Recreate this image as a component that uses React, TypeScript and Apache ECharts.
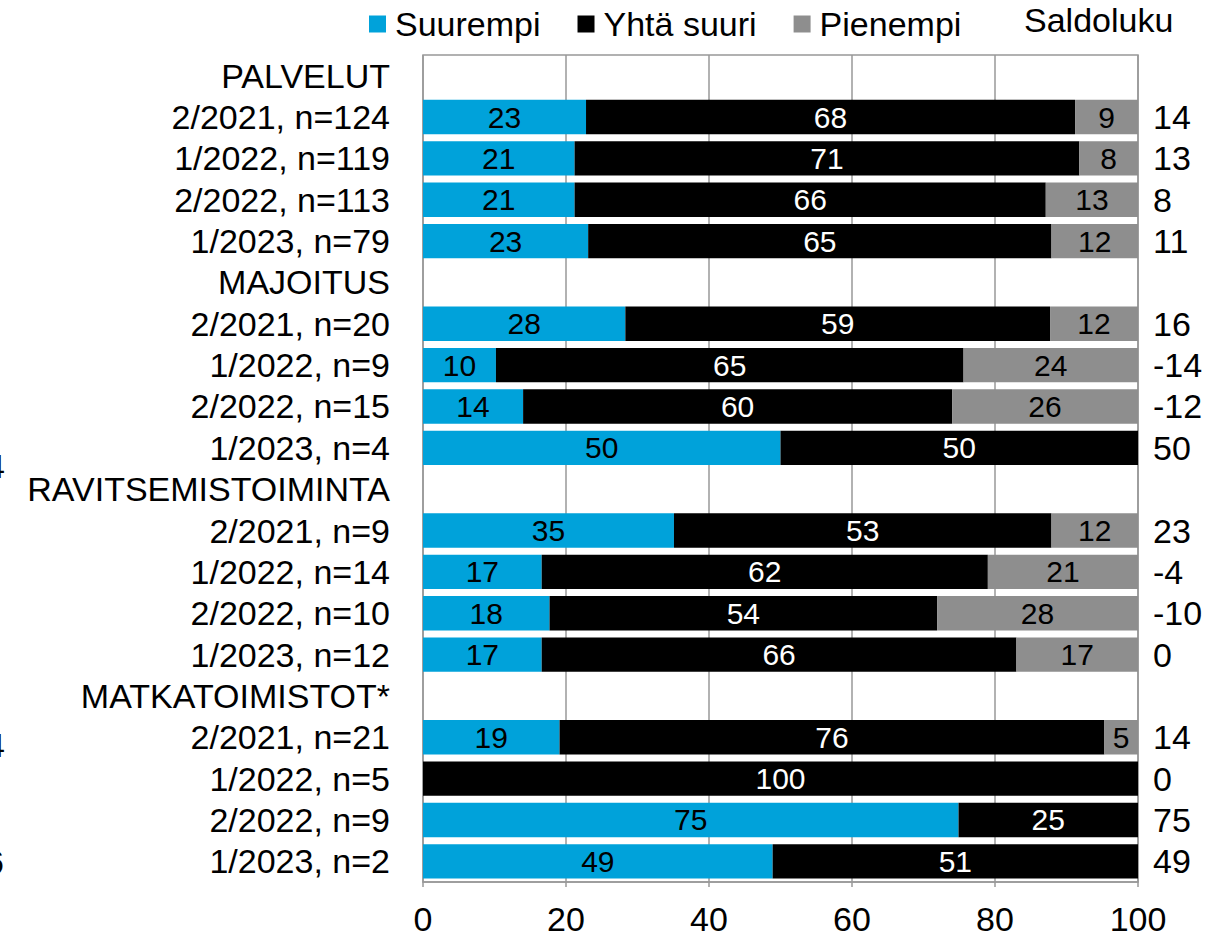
import React, { useEffect, useRef } from "react";
import * as echarts from "echarts";

const categories = [
  "PALVELUT", "2/2021, n=124", "1/2022, n=119", "2/2022, n=113", "1/2023, n=79",
  "MAJOITUS", "2/2021, n=20", "1/2022, n=9", "2/2022, n=15", "1/2023, n=4",
  "RAVITSEMISTOIMINTA", "2/2021, n=9", "1/2022, n=14", "2/2022, n=10", "1/2023, n=12",
  "MATKATOIMISTOT*", "2/2021, n=21", "1/2022, n=5", "2/2022, n=9", "1/2023, n=2",
];

const suurempi = [null, 22.8, 21.2, 21.2, 23.1, null, 28.3, 10.2, 14, 50, null, 35.1, 16.6, 17.7, 16.6, null, 19.1, 0, 74.9, 48.9];
const yhtaSuuri = [null, 68.4, 70.6, 65.9, 64.8, null, 59.4, 65.4, 60, 50, null, 52.8, 62.4, 54.2, 66.4, null, 76.2, 100, 25.1, 51.1];
const pienempi = [null, 8.8, 8.2, 12.9, 12.1, null, 12.3, 24.4, 26, 0, null, 12.1, 21, 28.1, 17, null, 4.7, 0, 0, 0];
const saldoluku = ["", "14", "13", "8", "11", "", "16", "-14", "-12", "50", "", "23", "-4", "-10", "0", "", "14", "0", "75", "49"];
const xTicks = [0, 20, 40, 60, 80, 100];

const FONT = "'Liberation Sans', Arial, sans-serif";
const FS = 34;
const BLUE = "#00A2DA";
const BLACK = "#000000";
const GRAY = "#8E8E8E";
const LINE = "#989898";

export default function App() {
  const ref = useRef<HTMLDivElement>(null);
  useEffect(() => {
    if (!ref.current) return;
    const chart = echarts.init(ref.current, undefined, { renderer: "svg" });
    const labelFmt = (p: any) => {
      const v = p.value;
      if (v == null || v === 0) return "";
      return String(Math.round(v));
    };
    const mkSeries = (name: string, data: any[], color: string, labelColor: string) => ({
      name,
      type: "bar",
      stack: "total",
      data,
      barCategoryGap: "17%",
      itemStyle: { color },
      label: {
        show: true,
        position: "inside",
        formatter: labelFmt,
        color: labelColor,
        fontSize: 30,
        fontFamily: FONT,
      },
    });
    const stray = (text: string, x: number, y: number) => ({
      type: "text",
      x,
      y,
      style: { text, fontSize: FS, fontFamily: FONT, fill: "#000", align: "right", verticalAlign: "middle" },
    });
    chart.setOption({
      animation: false,
      textStyle: { fontFamily: FONT },
      grid: {
        left: 423,
        right: 84,
        top: 55,
        bottom: 55,
        show: true,
        borderColor: LINE,
        borderWidth: 1.5,
        containLabel: false,
      },
      legend: {
        left: 364,
        top: 2,
        icon: "rect",
        itemWidth: 17,
        itemHeight: 17,
        itemGap: 37,
        textStyle: { fontSize: FS, color: "#000", fontFamily: FONT, padding: [0, 0, 0, 4] },
        data: ["Suurempi", "Yhtä suuri", "Pienempi"],
      },
      graphic: [
        { type: "text", left: 1024, top: 3, style: { text: "Saldoluku", fontSize: FS, fontFamily: FONT, fill: "#000" } },
        stray("4", 5, 466),
        stray("4", 5, 745),
        stray("6", 4, 862),
      ],
      xAxis: {
        type: "value",
        min: xTicks[0],
        max: xTicks[xTicks.length - 1],
        interval: 20,
        axisLine: { show: true, lineStyle: { color: LINE, width: 1.5 } },
        axisTick: { show: true, length: 5, lineStyle: { color: LINE, width: 1.5 } },
        splitLine: { show: true, lineStyle: { color: LINE, width: 1.5 } },
        axisLabel: { fontSize: FS, color: "#000", margin: 20, fontFamily: FONT },
      },
      yAxis: [
        {
          type: "category",
          inverse: true,
          data: categories,
          axisLine: { show: false },
          axisTick: { show: false },
          splitLine: { show: false },
          axisLabel: { fontSize: FS, color: "#000", margin: 33, fontFamily: FONT, interval: 0 },
        },
        {
          type: "category",
          inverse: true,
          position: "right",
          data: saldoluku,
          axisLine: { show: false },
          axisTick: { show: false },
          splitLine: { show: false },
          axisLabel: { fontSize: FS, color: "#000", margin: 15, fontFamily: FONT, interval: 0 },
        },
      ],
      series: [
        mkSeries("Suurempi", suurempi, BLUE, "#000"),
        mkSeries("Yhtä suuri", yhtaSuuri, BLACK, "#fff"),
        mkSeries("Pienempi", pienempi, GRAY, "#000"),
      ],
    });
    return () => chart.dispose();
  }, []);
  return (
    <div
      ref={ref}
      style={{ position: "absolute", left: 0, top: 0, width: 1222, height: 937, background: "#fff" }}
    />
  );
}
